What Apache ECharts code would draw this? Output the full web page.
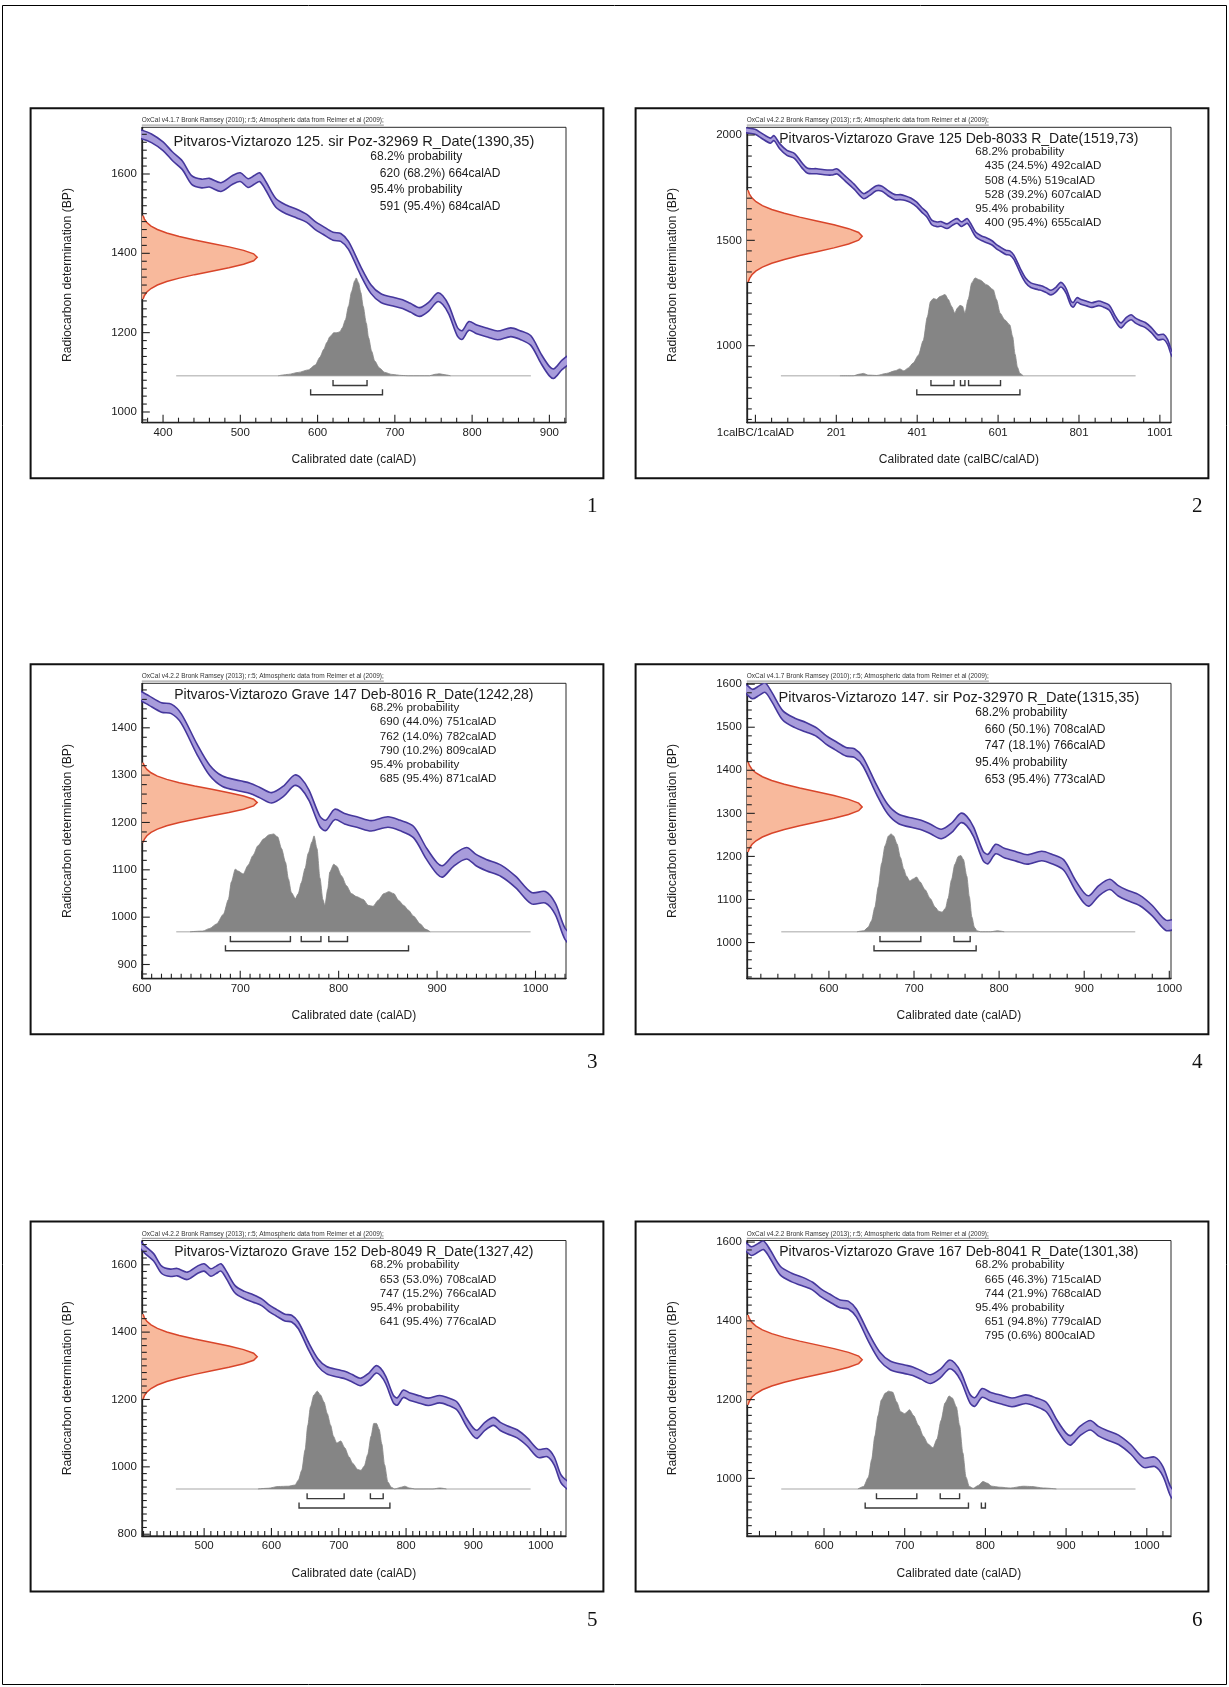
<!DOCTYPE html>
<html><head><meta charset="utf-8">
<script src="https://cdn.jsdelivr.net/npm/echarts@6/dist/echarts.min.js"></script>
<style>html,body{margin:0;padding:0;background:#fff}#c{width:1229px;height:1687px}</style>
</head><body><div id="c"></div>
<script>
// ---------- calibration curve (IntCal) ----------
const CURVE_YEAR = [-30,-20,0,15,38,47,61,79,98,116,130,153,171,190,203,222,245,268,282,300,314,328,346,360,372,385,400,412,425,437,450,460,475,490,500,510,518,525,533,546,560,573,586,597,607,620,630,640,656,669,682,700,710,720,732,744,755,762,770,781,787,796,806,820,833,850,862,876,889,900,906,917,930,940,950,965,980,996,1010,1020,1030,1040];
const CURVE_BP   = [2025,2022,2015,1998,1973,1985,1947,1915,1900,1856,1830,1828,1823,1822,1827,1795,1755,1710,1723,1747,1745,1725,1705,1705,1700,1690,1670,1645,1622,1585,1576,1578,1567,1585,1592,1577,1585,1592,1570,1527,1510,1500,1488,1470,1458,1443,1440,1420,1355,1310,1287,1277,1272,1263,1252,1266,1289,1282,1257,1202,1194,1217,1208,1200,1193,1201,1194,1180,1135,1103,1097,1120,1135,1120,1110,1098,1074,1040,1042,1018,965,945];
const CURVE_ERR  = [12,12,12,12,12,12,12,12,12,12,12,12,12,12,12,12,12,12,12,12,12,12,12,12,11,11,11,11,11,11,11,11,11,11,11,11,11,11,11,11,11,11,10,10,10,10,10,10,11,11,11,11,11,11,11,11,11,11,11,11,11,11,11,11,11,11,11,12,12,12,12,12,12,12,12,12,12,12,12,12,12,12];

// ---------- normal profile of the radiocarbon date (sigma units, relative height) ----------
const GAUSS_Z = [-3,-2.75,-2.5,-2.25,-2,-1.75,-1.5,-1.25,-1,-0.75,-0.5,-0.25,0,0.25,0.5,0.75,1,1.25,1.5,1.75,2,2.25,2.5,2.75,3];
const GAUSS_H = [0.011,0.023,0.044,0.080,0.135,0.216,0.325,0.458,0.607,0.755,0.882,0.969,1,0.969,0.882,0.755,0.607,0.458,0.325,0.216,0.135,0.080,0.044,0.023,0.011];

const HEAD_417 = 'OxCal v4.1.7 Bronk Ramsey (2010); r:5; Atmospheric data from Reimer et al (2009);';
const HEAD_422 = 'OxCal v4.2.2 Bronk Ramsey (2013); r:5; Atmospheric data from Reimer et al (2009);';

// ---------- panel 1 ----------
const P1_NAME = 'Pitvaros-Viztarozo 125. sir Poz-32969';
const P1_DATE = [1390, 35];
const P1_R68 = [[620, 68.2, 664]];
const P1_R95 = [[591, 95.4, 684]];
const P1_DIST_YEAR = [549,562,575,588,597,603,608,612,616,621,625,629,632,636,640,644,648,650,653,656,659,663,666,670,674,680,687,696,709,718,745,752,758,765,772];
const P1_DIST_P    = [0,0.014,0.034,0.06,0.11,0.19,0.27,0.34,0.40,0.44,0.44,0.45,0.49,0.57,0.71,0.86,0.97,1.0,0.95,0.85,0.71,0.54,0.39,0.25,0.15,0.08,0.034,0.014,0.003,0,0,0.015,0.02,0.01,0];
const P1_BASE = [417, 876];
const P1_XTICKS = [400,500,600,700,800,900];
const P1_YTICKS = [1000,1200,1400,1600];

// ---------- panel 2 ----------
const P2_NAME = 'Pitvaros-Viztarozo Grave 125 Deb-8033';
const P2_DATE = [1519, 73];
const P2_R68 = [[435, 24.5, 492], [508, 4.5, 519], [528, 39.2, 607]];
const P2_R95 = [[400, 95.4, 655]];
const P2_DIST_YEAR = [210,243,259,268,280,301,325,346,358,368,379,391,404,416,426,434,441,449,457,470,478,486,494,500,507,513,519,527,536,544,556,573,589,597,606,618,630,637,643,649,655,663];
const P2_DIST_P    = [0,0,0.017,0.024,0.007,0.003,0.024,0.05,0.07,0.05,0.08,0.13,0.21,0.36,0.60,0.76,0.79,0.78,0.81,0.83,0.78,0.71,0.64,0.69,0.72,0.71,0.64,0.78,0.95,1.0,0.98,0.93,0.88,0.78,0.64,0.57,0.52,0.40,0.22,0.086,0.024,0];
const P2_BASE = [64, 941];
const P2_XTICKS = [1,201,401,601,801,1001];
const P2_YTICKS = [1000,1500,2000];

// ---------- panel 3 ----------
const P3_NAME = 'Pitvaros-Viztarozo Grave 147 Deb-8016';
const P3_DATE = [1242, 28];
const P3_R68 = [[690, 44.0, 751], [762, 14.0, 782], [790, 10.2, 809]];
const P3_R95 = [[685, 95.4, 871]];
const P3_DIST_YEAR = [649,662,669,676,683,688,691,695,698,703,708,713,718,724,729,734,738,742,746,749,752,756,759,762,766,769,773,775,778,781,784,786,789,791,795,798,803,808,813,818,825,830,835,840,846,851,856,861,866,871,876,883,888,893];
const P3_DIST_P    = [0,0.007,0.034,0.08,0.18,0.33,0.51,0.64,0.62,0.59,0.68,0.78,0.88,0.95,0.99,1.0,0.97,0.85,0.71,0.54,0.40,0.34,0.39,0.50,0.65,0.80,0.92,0.98,0.85,0.55,0.33,0.27,0.44,0.61,0.69,0.67,0.57,0.47,0.39,0.36,0.33,0.27,0.26,0.32,0.39,0.41,0.39,0.32,0.27,0.22,0.16,0.08,0.027,0];
const P3_BASE = [635, 995];
const P3_XTICKS = [600,700,800,900,1000];
const P3_YTICKS = [900,1000,1100,1200,1300,1400];

// ---------- panel 4 ----------
const P4_NAME = 'Pitvaros-Viztarozo 147. sir Poz-32970';
const P4_DATE = [1315, 35];
const P4_R68 = [[660, 50.1, 708], [747, 18.1, 766]];
const P4_R95 = [[653, 95.4, 773]];
const P4_DIST_YEAR = [633,641,646,650,654,658,662,666,670,673,676,680,684,688,691,695,699,703,707,713,719,725,729,733,737,740,744,748,752,755,758,762,765,768,771,774,778,790,798,806];
const P4_DIST_P    = [0,0.01,0.045,0.11,0.25,0.46,0.70,0.88,0.98,1.0,0.98,0.90,0.76,0.64,0.57,0.52,0.54,0.56,0.51,0.43,0.34,0.25,0.21,0.20,0.24,0.34,0.53,0.69,0.77,0.78,0.74,0.57,0.36,0.15,0.045,0.01,0,0,0.01,0];
const P4_BASE = [544, 960];
const P4_XTICKS = [600,700,800,900,1000];
const P4_YTICKS = [1000,1100,1200,1300,1400,1500,1600];

// ---------- panel 5 ----------
const P5_NAME = 'Pitvaros-Viztarozo Grave 152 Deb-8049';
const P5_DATE = [1327, 42];
const P5_R68 = [[653, 53.0, 708], [747, 15.2, 766]];
const P5_R95 = [[641, 95.4, 776]];
const P5_DIST_YEAR = [580,595,610,625,635,640,645,650,654,658,663,668,673,678,683,688,692,697,703,709,715,721,728,733,738,743,748,752,756,760,764,768,773,778,783,793,798,805,813,840,850,860];
const P5_DIST_P    = [0,0.007,0.025,0.028,0.04,0.09,0.19,0.40,0.65,0.84,0.96,1.0,0.96,0.89,0.77,0.65,0.54,0.47,0.49,0.42,0.33,0.26,0.20,0.19,0.235,0.35,0.54,0.67,0.67,0.61,0.46,0.25,0.07,0.018,0,0.018,0.028,0.01,0,0,0.01,0];
const P5_BASE = [458, 985];
const P5_XTICKS = [500,600,700,800,900,1000];
const P5_YTICKS = [800,1000,1200,1400,1600];

// ---------- panel 6 ----------
const P6_NAME = 'Pitvaros-Viztarozo Grave 167 Deb-8041';
const P6_DATE = [1301, 38];
const P6_R68 = [[665, 46.3, 715], [744, 21.9, 768]];
const P6_R95 = [[651, 94.8, 779], [795, 0.6, 800]];
const P6_DIST_YEAR = [642,649,655,659,663,667,671,676,680,685,690,695,700,706,711,717,723,729,735,740,745,750,755,759,764,768,772,776,780,785,791,797,802,808,818,831,847,857,872,888];
const P6_DIST_P    = [0,0.025,0.12,0.30,0.54,0.75,0.91,0.98,1.0,0.99,0.89,0.79,0.77,0.81,0.75,0.65,0.54,0.46,0.42,0.51,0.70,0.88,0.95,0.93,0.84,0.65,0.37,0.12,0.025,0.007,0.035,0.077,0.06,0.028,0.018,0.01,0.028,0.025,0.01,0];
const P6_BASE = [547, 986];
const P6_XTICKS = [600,700,800,900,1000];
const P6_YTICKS = [1000,1200,1400,1600];

// ---------- layout ----------
const PANELS = [
  {px:30.6, py:108.3, ver:417, name:P1_NAME, date:P1_DATE, r68:P1_R68, r95:P1_R95, dx:P1_DIST_YEAR, dp:P1_DIST_P, base:P1_BASE, xt:P1_XTICKS, yt:P1_YTICKS, xr:[372.5,921.5], yr:[973,1717.7], xs:20, ys:20, xname:'Calibrated date (calAD)', num:'1'},
  {px:635.6, py:108.3, ver:422, name:P2_NAME, date:P2_DATE, r68:P2_R68, r95:P2_R95, dx:P2_DIST_YEAR, dp:P2_DIST_P, base:P2_BASE, xt:P2_XTICKS, yt:P2_YTICKS, xr:[-20.3,1028.5], yr:[634.6,2036.5], xs:40, ys:50, xname:'Calibrated date (calBC/calAD)', num:'2'},
  {px:30.6, py:664.3, ver:422, name:P3_NAME, date:P3_DATE, r68:P3_R68, r95:P3_R95, dx:P3_DIST_YEAR, dp:P3_DIST_P, base:P3_BASE, xt:P3_XTICKS, yt:P3_YTICKS, xr:[600,1031], yr:[870,1494], xs:10, ys:20, xname:'Calibrated date (calAD)', num:'3'},
  {px:635.6, py:664.3, ver:417, name:P4_NAME, date:P4_DATE, r68:P4_R68, r95:P4_R95, dx:P4_DIST_YEAR, dp:P4_DIST_P, base:P4_BASE, xt:P4_XTICKS, yt:P4_YTICKS, xr:[503.5,1002], yr:[916,1602], xs:20, ys:20, xname:'Calibrated date (calAD)', num:'4'},
  {px:30.6, py:1221.5, ver:422, name:P5_NAME, date:P5_DATE, r68:P5_R68, r95:P5_R95, dx:P5_DIST_YEAR, dp:P5_DIST_P, base:P5_BASE, xt:P5_XTICKS, yt:P5_YTICKS, xr:[407.4,1037.6], yr:[795,1672], xs:10, ys:20, xname:'Calibrated date (calAD)', num:'5'},
  {px:635.6, py:1221.5, ver:422, name:P6_NAME, date:P6_DATE, r68:P6_R68, r95:P6_R95, dx:P6_DIST_YEAR, dp:P6_DIST_P, base:P6_BASE, xt:P6_XTICKS, yt:P6_YTICKS, xr:[504.3,1030], yr:[854,1604], xs:20, ys:20, xname:'Calibrated date (calAD)', num:'6'}
];

const FONT = 'Liberation Sans, Arial, sans-serif';
const TXT = '#1c1c1c';
const PW = 572.8, PH = 370, GL = 111.2, GT = 19, GW = 424.2, GH = 295.4;
const MAJ = 8, MIN = 5;

function minorTicks(majors, step, min, max) {
  const out = [];
  let v = majors[0] - Math.floor((majors[0] - min) / step) * step;
  for (; v <= max + 1e-6; v += step) {
    if (v > min + 1e-6 && v < max - 1e-6 && majors.indexOf(v) < 0) out.push(v);
  }
  return out;
}

const mctx = document.createElement('canvas').getContext('2d');

const grids = [], xAxes = [], yAxes = [], series = [], graphics = [];

graphics.push({type:'rect', z:100, shape:{x:2.5, y:5.5, width:1224, height:1679}, style:{fill:null, stroke:'#000', lineWidth:1}});

PANELS.forEach(function (P, i) {
  const gl = P.px + GL, gt = P.py + GT;
  grids.push({left:gl, top:gt, width:GW, height:GH, show:true, borderColor:'#2a2a2a', borderWidth:1, backgroundColor:'transparent'});

  const fmt = function (v) { return v === 1 && P.num === '2' ? '1calBC/1calAD' : String(v); };
  xAxes.push({type:'value', gridIndex:i, min:P.xr[0], max:P.xr[1], position:'bottom',
    axisLine:{show:true, onZero:false, lineStyle:{color:'#222', width:1.3}},
    axisTick:{show:false},
    axisLabel:{show:true, customValues:P.xt, formatter:fmt, fontSize:11.5, color:TXT, margin:4, fontFamily:FONT},
    splitLine:{show:false}});
  xAxes.push({type:'value', gridIndex:i, min:0, max:3.676, show:false, position:'top', axisLine:{onZero:false}});
  yAxes.push({type:'value', gridIndex:i, min:P.yr[0], max:P.yr[1], position:'left',
    axisLine:{show:true, onZero:false, lineStyle:{color:'#222', width:1.3}},
    axisTick:{show:false},
    axisLabel:{show:true, customValues:P.yt, formatter:function (v) { return String(v); }, fontSize:11.5, color:TXT, margin:5, fontFamily:FONT},
    splitLine:{show:false}});
  yAxes.push({type:'value', gridIndex:i, min:-0.48, max:2.54, show:false, position:'right', axisLine:{onZero:false}});

  const xm = 2 * i, ym = 2 * i;
  // calibration curve band
  series.push({type:'custom', xAxisIndex:xm, yAxisIndex:ym, clip:true, z:2, silent:true,
    data:[[CURVE_YEAR[0], CURVE_BP[0]]],
    renderItem:function (params, api) {
      const up = [], lo = [];
      for (let k = 0; k < CURVE_YEAR.length; k++) {
        up.push(api.coord([CURVE_YEAR[k], CURVE_BP[k] + CURVE_ERR[k]]));
        lo.push(api.coord([CURVE_YEAR[k], CURVE_BP[k] - CURVE_ERR[k]]));
      }
      const poly = up.concat(lo.slice().reverse());
      return {type:'group', children:[
        {type:'polygon', shape:{points:poly, smooth:0.3}, style:{fill:'#a89cdb', stroke:null}},
        {type:'polyline', shape:{points:up, smooth:0.3}, style:{fill:null, stroke:'#45379c', lineWidth:1.6}},
        {type:'polyline', shape:{points:lo, smooth:0.3}, style:{fill:null, stroke:'#45379c', lineWidth:1.6}}
      ]};
    }});
  // ticks on x axis (inside): level 0 = major, 1 = minor
  const xTickData = P.xt.map(function (v) { return [v, 0]; })
    .concat(minorTicks(P.xt, P.xs, P.xr[0], P.xr[1]).map(function (v) { return [v, 1]; }));
  series.push({type:'custom', xAxisIndex:xm, yAxisIndex:ym + 1, clip:false, z:6, silent:true,
    encode:{x:0}, data:xTickData,
    renderItem:function (params, api) {
      const x = api.coord([api.value(0), 0])[0];
      const yb = api.coord([P.xr[0], P.yr[0]]);
      const L = api.value(1) === 0 ? MAJ : MIN;
      return {type:'line', shape:{x1:x, y1:gt + GH, x2:x, y2:gt + GH - L}, style:{stroke:'#222', lineWidth:1.1}};
    }});
  // ticks on y axis (inside)
  const yTickData = P.yt.map(function (v) { return [0, v]; })
    .concat(minorTicks(P.yt, P.ys, P.yr[0], P.yr[1]).map(function (v) { return [1, v]; }));
  series.push({type:'custom', xAxisIndex:xm + 1, yAxisIndex:ym, clip:false, z:6, silent:true,
    encode:{y:1}, data:yTickData,
    renderItem:function (params, api) {
      const p = api.coord([0, api.value(1)]);
      const L = api.value(0) === 0 ? MAJ : MIN;
      return {type:'line', shape:{x1:p[0], y1:p[1], x2:p[0] + L, y2:p[1]}, style:{stroke:'#222', lineWidth:1.1}};
    }});
  // baseline of calibrated distribution
  series.push({type:'line', xAxisIndex:xm, yAxisIndex:ym + 1, z:3, silent:true, symbol:'none',
    data:[[P.base[0], 0], [P.base[1], 0]], lineStyle:{color:'#c4c4c4', width:1.6}});
  // calibrated distribution
  series.push({type:'line', xAxisIndex:xm, yAxisIndex:ym + 1, z:4, silent:true, symbol:'none',
    smooth:0.25, smoothMonotone:'x',
    data:P.dx.map(function (y, k) { return [y, P.dp[k]]; }),
    lineStyle:{color:'#858585', width:0.8}, areaStyle:{color:'#858585', opacity:1}});
  // radiocarbon date distribution on the y axis
  series.push({type:'custom', xAxisIndex:xm + 1, yAxisIndex:ym, clip:true, z:5, silent:true,
    data:[[0, P.date[0]]],
    renderItem:function (params, api) {
      const pts = [];
      for (let k = 0; k < GAUSS_Z.length; k++) pts.push(api.coord([GAUSS_H[k], P.date[0] + GAUSS_Z[k] * P.date[1]]));
      const a0 = api.coord([0, P.date[0] + GAUSS_Z[0] * P.date[1]]);
      const a1 = api.coord([0, P.date[0] + GAUSS_Z[GAUSS_Z.length - 1] * P.date[1]]);
      return {type:'group', children:[
        {type:'polygon', shape:{points:[a0].concat(pts, [a1])}, style:{fill:'#f8b99c', stroke:null}},
        {type:'polyline', shape:{points:pts}, style:{fill:null, stroke:'#d8452a', lineWidth:1.5}}
      ]};
    }});
  // range brackets
  const br = P.r68.map(function (r) { return [r[0], r[2], 0]; }).concat(P.r95.map(function (r) { return [r[0], r[2], 1]; }));
  series.push({type:'custom', xAxisIndex:xm, yAxisIndex:ym + 1, z:5, silent:true,
    encode:{x:[0, 1], y:2}, data:br,
    renderItem:function (params, api) {
      const s = api.value(0), e = api.value(1), lvl = api.value(2);
      const p1 = api.coord([s, 0]), p2 = api.coord([e, 0]);
      const y = p1[1] + (lvl === 0 ? 9.7 : 19);
      return {type:'polyline', shape:{points:[[p1[0], y - 5.5], [p1[0], y], [p2[0], y], [p2[0], y - 5.5]]},
        style:{fill:null, stroke:'#3a3a3a', lineWidth:1.4}};
    }});

  // ---- texts ----
  const v417 = P.ver === 417;
  const head = v417 ? HEAD_417 : HEAD_422;
  mctx.font = '6.5px "Liberation Sans"';
  const hw = mctx.measureText(head).width;
  graphics.push({type:'text', z:100, x:gl, y:gt - 3.2, style:{text:head, fontSize:6.5, fontFamily:FONT, fill:'#333', align:'left', verticalAlign:'bottom'}});
  graphics.push({type:'line', z:100, shape:{x1:gl, y1:gt - 2.2, x2:gl + hw, y2:gt - 2.2}, style:{stroke:'#444', lineWidth:0.6}});
  graphics.push({type:'text', z:100, x:gl + GW / 2, y:gt + (v417 ? 14.4 : 12),
    style:{text:P.name + ' R_Date(' + P.date[0] + ',' + P.date[1] + ')', fontSize:v417 ? 14.6 : 14, fontFamily:FONT, fill:TXT, align:'center', verticalAlign:'middle'}});
  const lines = [['68.2% probability', 0]];
  P.r68.forEach(function (r) { lines.push([r[0] + ' (' + r[1].toFixed(1) + '%) ' + r[2] + 'calAD', 1]); });
  lines.push(['95.4% probability', 0]);
  P.r95.forEach(function (r) { lines.push([r[0] + ' (' + r[1].toFixed(1) + '%) ' + r[2] + 'calAD', 1]); });
  const y0 = v417 ? 29.4 : 24.6, dy = v417 ? 16.7 : 14.2, fs = v417 ? 12 : 11.6;
  lines.forEach(function (L, k) {
    graphics.push({type:'text', z:100, x:gl + (L[1] ? 238 : 228.5), y:gt + y0 + k * dy,
      style:{text:L[0], fontSize:fs, fontFamily:FONT, fill:TXT, align:'left', verticalAlign:'middle'}});
  });
  graphics.push({type:'text', z:100, x:gl + GW / 2, y:gt + GH + 37.3,
    style:{text:P.xname, fontSize:12, fontFamily:FONT, fill:TXT, align:'center', verticalAlign:'middle'}});
  graphics.push({type:'text', z:100, x:gl - 74, y:gt + GH / 2, rotation:Math.PI / 2,
    style:{text:'Radiocarbon determination (BP)', fontSize:12.2, fontFamily:FONT, fill:TXT, align:'center', verticalAlign:'middle'}});
  graphics.push({type:'rect', z:100, shape:{x:P.px, y:P.py, width:PW, height:PH}, style:{fill:null, stroke:'#111', lineWidth:2}});
  graphics.push({type:'text', z:100, x:P.px + PW - 6, y:P.py + PH + 28.5,
    style:{text:P.num, fontSize:21, fontFamily:'Liberation Serif, Times New Roman, serif', fill:'#111', align:'right', verticalAlign:'middle'}});
});

const chart = echarts.init(document.getElementById('c'), null, {renderer:'canvas'});
chart.setOption({
  backgroundColor:'#ffffff',
  animation:false,
  textStyle:{fontFamily:FONT},
  grid:grids, xAxis:xAxes, yAxis:yAxes, series:series, graphic:graphics
});
</script></body></html>
